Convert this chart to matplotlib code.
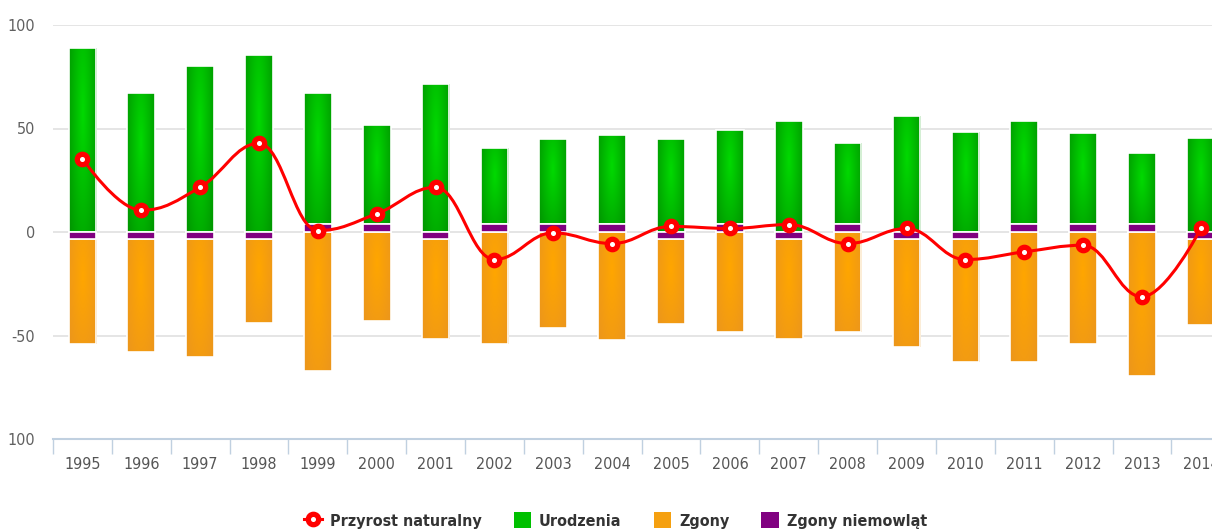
import numpy as np
import matplotlib.pyplot as plt
from matplotlib.path import Path
from matplotlib.patches import PathPatch, Patch
from matplotlib.lines import Line2D

plt.rcParams['font.family'] = ['DejaVu Sans']
plt.rcParams['font.stretch'] = 'condensed'

# data
years = ['1995', '1996', '1997', '1998', '1999', '2000', '2001', '2002', '2003', '2004',
         '2005', '2006', '2007', '2008', '2009', '2010', '2011', '2012', '2013', '2014']
births = [89, 67, 80, 85.5, 63, 47.5, 71.5, 36.5, 41, 43, 45, 45.5, 53.5, 38.8, 56, 48.5, 49.5, 43.7, 34, 45.3]
deaths = [-50.5, -54.5, -57, -40.5, -67, -43.2, -48, -54, -46.6, -52.3,
          -40.8, -48.2, -48, -48.2, -52.2, -59.5, -63, -54, -69.5, -41.6]
infant = [-3.5, -3.5, -3.5, -3.5, 4, 4, -3.5, 4, 4, 4,
          -3.5, 4, -3.5, 4, -3.5, -3.5, 4, 4, 4, -3.5]
growth = [35.5, 10.5, 21.6, 42.8, 0.7, 8.8, 21.6, -13.3, -0.4, -5.6,
          2.7, 1.7, 3.6, -5.6, 1.7, -13.3, -9.6, -6.4, -31.3, 1.7]

x = np.arange(len(years))
inf = np.array(infant)
pos_base = np.where(inf > 0, inf, 0)
neg_base = np.where(inf < 0, inf, 0)


def spline_path(xs, ys, smoothing=1.5):
    # Bezier spline like the one highcharts draws
    verts = [(xs[0], ys[0])]
    codes = [Path.MOVETO]
    n = len(xs)
    conts = []
    for i in range(n):
        if i == 0 or i == n - 1:
            conts.append(((xs[i], ys[i]), (xs[i], ys[i])))
            continue
        px, py = xs[i], ys[i]
        lx, ly = xs[i - 1], ys[i - 1]
        nx, ny = xs[i + 1], ys[i + 1]
        d = smoothing + 1
        lcx, lcy = (smoothing * px + lx) / d, (smoothing * py + ly) / d
        rcx, rcy = (smoothing * px + nx) / d, (smoothing * py + ny) / d
        corr = (rcy - lcy) * (rcx - px) / (rcx - lcx) + py - rcy
        lcy += corr
        rcy += corr
        if lcy > ly and lcy > py:
            lcy = max(ly, py); rcy = 2 * py - lcy
        elif lcy < ly and lcy < py:
            lcy = min(ly, py); rcy = 2 * py - lcy
        if rcy > ny and rcy > py:
            rcy = max(ny, py); lcy = 2 * py - rcy
        elif rcy < ny and rcy < py:
            rcy = min(ny, py); lcy = 2 * py - rcy
        conts.append(((lcx, lcy), (rcx, rcy)))
    for i in range(1, n):
        verts += [conts[i - 1][1], conts[i][0], (xs[i], ys[i])]
        codes += [Path.CURVE4] * 3
    return Path(verts, codes)


def shade(ax, patches, c_in, c_out):
    # radial gradient inside each bar
    gy, gx = np.mgrid[0:1:60j, 0:1:30j]
    r = np.clip(np.hypot((gx - 0.5) * 1.6, (gy - 0.35) * 1.0), 0, 1)
    c_in = np.array(c_in) / 255
    c_out = np.array(c_out) / 255
    img = c_in[None, None, :] * (1 - r[..., None]) + c_out[None, None, :] * r[..., None]
    for p in patches:
        x0, y0 = p.get_x(), p.get_y()
        w, h = p.get_width(), p.get_height()
        if h == 0:
            continue
        ylo, yhi = min(y0, y0 + h), max(y0, y0 + h)
        im = ax.imshow(img, extent=(x0, x0 + w, ylo, yhi), origin='upper',
                       aspect='auto', zorder=2, interpolation='bilinear')
        im.set_clip_path(p)


fig = plt.figure(figsize=(12.12, 5.32), dpi=100)
ax = fig.add_axes([53 / 1212, 1 - 439 / 532, 1 - 53 / 1212, 414 / 532])

bw = 0.47
g = ax.bar(x, births, bw, bottom=pos_base, color='#00b800', edgecolor='white', linewidth=1.2, zorder=2)
o = ax.bar(x, deaths, bw, bottom=neg_base, color='#f5a010', edgecolor='white', linewidth=1.2, zorder=2)
pu = ax.bar(x, infant, bw, color='#800080', edgecolor='white', linewidth=1.2, zorder=3)
shade(ax, g, (0, 218, 0), (0, 150, 0))
shade(ax, o, (255, 166, 0), (236, 150, 28))
for p in list(g) + list(o):
    p.set_facecolor('none')
    p.set_zorder(3)

ax.add_patch(PathPatch(spline_path(x.astype(float), growth), facecolor='none',
                       edgecolor='#ff0000', linewidth=2.2, zorder=4))
ax.plot(x, growth, linestyle='none', marker='o', ms=7.5, mew=3.8, mec='#ff0000',
        mfc='white', zorder=5)

ax.set_xlim(-0.5, 19.19)
ax.set_ylim(-100, 100)
ax.set_yticks([-100, -50, 0, 50, 100])
ax.set_yticklabels(['100', '-50', '0', '50', '100'])
ax.set_xticks(np.arange(-0.5, 19.5, 1))
ax.set_xticklabels([])
ax.set_xticks(x, minor=True)
ax.set_xticklabels(years, minor=True)
ax.tick_params(axis='x', which='major', length=11, width=1, color='#c0d0e0', direction='out')
ax.tick_params(axis='x', which='minor', length=0, pad=13, labelsize=11.5, labelcolor='#555555')
ax.tick_params(axis='y', length=0, pad=13, labelsize=11.5, labelcolor='#606060')
for y in [-50, 0, 50, 100]:
    ax.axhline(y, color='#e0e0e0', linewidth=1.2, zorder=1)
for s in ['top', 'right', 'left']:
    ax.spines[s].set_visible(False)
ax.spines['bottom'].set_color('#c0d0e0')
ax.spines['bottom'].set_linewidth(1.5)

handles = [
    Line2D([], [], color='#ff0000', lw=2.2, marker='o', ms=7.5, mew=3.8, mec='#ff0000', mfc='white'),
    Patch(facecolor='#00c000'),
    Patch(facecolor='#f5a010'),
    Patch(facecolor='#800080'),
]
labels = ['Przyrost naturalny', 'Urodzenia', 'Zgony', 'Zgony niemowląt']
leg = fig.legend(handles, labels, loc='center', bbox_to_anchor=(0.508, 0.022), ncol=4,
                 frameon=False, handlelength=1.1, handleheight=1.2, handletextpad=0.5,
                 columnspacing=2.0, prop={'size': 11.5, 'weight': 'bold'})
for t in leg.get_texts():
    t.set_color('#333333')

fig.savefig('out.png', dpi=100)
